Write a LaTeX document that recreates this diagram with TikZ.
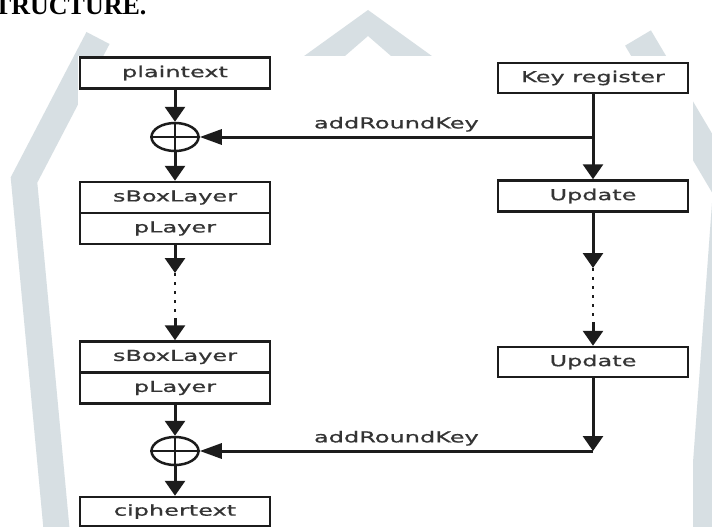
\documentclass[tikz,border=0pt]{standalone}
\usepackage{fontspec}
\usepackage{xcolor}
\usetikzlibrary{arrows.meta,shapes.geometric}
\setmainfont{Liberation Serif}
\newfontfamily\boxfont[FakeStretch=1.6,FakeBold=0.8]{DejaVu Sans}
\definecolor{wmgray}{RGB}{215,223,227}
\definecolor{ink}{RGB}{28,28,28}
\definecolor{txt}{RGB}{52,52,52}

\begin{document}
\begin{tikzpicture}[x=1pt,y=-1pt,
  blk/.style={draw=ink,line width=2.5pt,fill=white,minimum width=190pt,minimum height=31pt,inner sep=0pt,font=\boxfont\fontsize{15}{18}\selectfont,text=txt},
  xor/.style={draw=ink,line width=2.5pt,ellipse,minimum width=47pt,minimum height=28pt,inner sep=0pt},
  wire/.style={draw=ink,line width=3pt},
  vtip/.style={-{Triangle[length=15pt,width=20pt]}},
  htip/.style={-{Triangle[length=22pt,width=15pt]}},
  gap/.style={draw=ink,line width=2.5pt,dash pattern=on 3pt off 6pt},
  lbl/.style={font=\boxfont\fontsize{15}{18}\selectfont,text=txt,inner sep=1pt}]
  \useasboundingbox (0,0) rectangle (712,527);
  \clip (0,0) rectangle (712,527);
  \fill[white] (0,0) rectangle (712,527);

  \fill[wmgray] (368,10) -- (250,95) -- (300,95) -- (368,36) -- (436,95) -- (486,95) -- cycle;
  \draw[wmgray,line width=26pt] (98,38) -- (24,180) -- (58,545);
  \draw[wmgray,line width=30pt] (638,38) -- (728,190) -- (702,545);
  \fill[white] (78,56) rectangle (693,527);

  \node[anchor=base east,font=\fontsize{26}{30}\selectfont\bfseries] (head) at (150,15) {TRUCTURE.};

  \path
    (175,73)    node[blk] (plain) {plaintext}
    (593,78)    node[blk,minimum height=30pt] (key) {Key register}
    (175,137)   node[xor] (xor1) {}
    (175,197.5) node[blk] (sbox1) {sBoxLayer}
    (175,228.5) node[blk] (play1) {pLayer}
    (593,196)   node[blk] (upd1) {Update}
    (175,357)   node[blk] (sbox2) {sBoxLayer}
    (175,388)   node[blk] (play2) {pLayer}
    (593,362)   node[blk,minimum height=30pt] (upd2) {Update}
    (175,451)   node[xor] (xor2) {}
    (175,511.5) node[blk,minimum height=29pt] (ciph) {ciphertext};

  \coordinate (j1) at (593,137);
  \coordinate (j2) at (593,451);
  \coordinate (a1) at (175,273);
  \coordinate (a2) at (175,318);
  \coordinate (b1) at (593,268);
  \coordinate (b2) at (593,322);

  \draw[wire,line width=2pt] (xor1.north) -- (xor1.south) (xor1.west) -- (xor1.east);
  \draw[wire,line width=2pt] (xor2.north) -- (xor2.south) (xor2.west) -- (xor2.east);

  \draw[wire,vtip] (plain) -- (xor1);
  \draw[wire,vtip] (xor1) -- (sbox1);
  \draw[wire,vtip] (play1) -- (a1);
  \draw[gap] (a1) -- (a2);
  \draw[wire,vtip] (a2) -- (sbox2);
  \draw[wire,vtip] (play2) -- (xor2);
  \draw[wire,vtip] (xor2) -- (ciph);

  \draw[wire,vtip] (key) -- (upd1);
  \draw[wire,htip] (j1) -- node[lbl,above=3pt] {addRoundKey} (xor1);
  \draw[wire,vtip] (upd1) -- (b1);
  \draw[gap] (b1) -- (b2);
  \draw[wire,vtip] (b2) -- (upd2);
  \draw[wire,vtip] (upd2) -- (j2);
  \draw[wire,htip] (j2) -- node[lbl,above=3pt] {addRoundKey} (xor2);
\end{tikzpicture}
\end{document}
